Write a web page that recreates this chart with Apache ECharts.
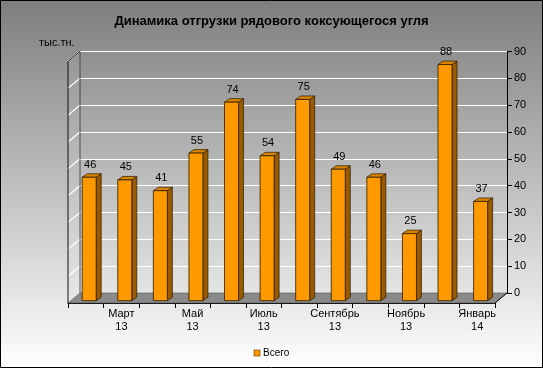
<!DOCTYPE html>
<html><head><meta charset="utf-8">
<script src="https://cdn.jsdelivr.net/npm/echarts@6/dist/echarts.min.js"></script>
<style>html,body{margin:0;padding:0;background:#fff}#c{width:543px;height:368px}</style>
</head><body><div id="c"></div>
<script>
var categories = ['Февраль\n13','Март\n13','Апрель\n13','Май\n13','Июнь\n13','Июль\n13','Август\n13','Сентябрь\n13','Октябрь\n13','Ноябрь\n13','Декабрь\n13','Январь\n14'];
var values = [46,45,41,55,74,54,75,49,46,25,88,37];
var seriesName = 'Всего';
var titleText = 'Динамика отгрузки рядового коксующегося угля';
var unitText = 'тыс.тн.';
var yMin = 0, yMax = 90, yStep = 10;

var FONT = '"Liberation Sans", Arial, sans-serif';
var chart = echarts.init(document.getElementById('c'), null, {renderer:'canvas'});

// depth vector of the 3D box (back wall -> front edge)
var DX = -12, DY = 10;
// bar front face offset relative to back-wall coordinates
var BFX = -8.6, BFY = 7.7;
var BW = 14, BDX = 5, BDY = -3.5;

function frameItem(params, api){
  var cs = params.coordSys;
  var x0 = cs.x, x1 = cs.x + cs.width, yT = cs.y, yB = cs.y + cs.height;
  var ch = [];
  ch.push({type:'polygon', shape:{points:[[x0,yB],[x1,yB],[x1+DX,yB+DY],[x0+DX,yB+DY]]},
    style:{fill:'#8a8a8a', stroke:'#555', lineWidth:0.6}});
  ch.push({type:'polygon', shape:{points:[[x0,yT],[x0,yB],[x0+DX,yB+DY],[x0+DX,yT+DY]]},
    style:{fill:'rgba(255,255,255,0.05)', stroke:null}});
  for (var v = yMin + yStep; v <= yMax; v += yStep){
    var p = api.coord([0, v]);
    ch.push({type:'line', shape:{x1:x0, y1:p[1], x2:x0+DX, y2:p[1]+DY},
      style:{stroke:'#ffffff', lineWidth:1.2}});
  }
  ch.push({type:'line', shape:{x1:x0+DX, y1:yT+DY, x2:x0+DX, y2:yB+DY}, style:{stroke:'#111', lineWidth:1}});
  ch.push({type:'line', shape:{x1:x0, y1:yT, x2:x0+DX, y2:yT+DY}, style:{stroke:'#111', lineWidth:1}});
  ch.push({type:'line', shape:{x1:x0, y1:yT, x2:x0, y2:yB}, style:{stroke:'#333', lineWidth:0.8}});
  ch.push({type:'line', shape:{x1:x1, y1:yB, x2:x1+DX, y2:yB+DY}, style:{stroke:'#111', lineWidth:1}});
  return {type:'group', children:ch, silent:true};
}

function barItem(params, api){
  var idx = api.value(0), val = api.value(1);
  var p = api.coord([idx, val]), p0 = api.coord([idx, 0]);
  var cx = p[0] + BFX;
  var xa = cx - BW/2, xb = cx + BW/2;
  var yt = p[1] + BFY, yb = p0[1] + BFY;
  return {type:'group', children:[
    {type:'polygon', shape:{points:[[xb,yt],[xb+BDX,yt+BDY],[xb+BDX,yb+BDY],[xb,yb]]},
      style:{fill:'#9a5a00', stroke:'#2a1a00', lineWidth:0.7}},
    {type:'polygon', shape:{points:[[xa,yt],[xa+BDX,yt+BDY],[xb+BDX,yt+BDY],[xb,yt]]},
      style:{fill:'#d88400', stroke:'#2a1a00', lineWidth:0.7}},
    {type:'rect', shape:{x:xa, y:yt, width:BW, height:yb-yt},
      style:{fill:'#ff9900', stroke:'#2a1a00', lineWidth:0.8}},
    {type:'text', x:cx+1, y:yt-7, style:{text:String(val), fill:'#000', font:'11px '+FONT,
      textAlign:'center', textVerticalAlign:'bottom'}}
  ]};
}

var option = {
  animation:false,
  backgroundColor:{type:'linear', x:0, y:0, x2:0, y2:1, colorStops:[
    {offset:0, color:'#7e7e7e'}, {offset:1, color:'#ffffff'}]},
  title:{text:titleText, left:'center', top:10,
    textStyle:{fontFamily:FONT, fontSize:13, fontWeight:'bold', color:'#000'}},
  legend:{bottom:5, left:'center', itemWidth:6, itemHeight:6, itemGap:4, icon:'rect',
    textStyle:{fontFamily:FONT, fontSize:10, color:'#000', padding:[0,0,0,-2]},
    data:[{name:seriesName, itemStyle:{color:'#ff9900', borderColor:'#5a3300', borderWidth:0.6}}]},
  graphic:[
    {type:'text', left:39, top:37, style:{text:unitText, font:'11px '+FONT, fill:'#000'}},
    {type:'rect', shape:{x:0.5, y:0.5, width:542, height:367}, style:{fill:null, stroke:'#000', lineWidth:1}, z:100}
  ],
  grid:[
    {left:80, right:36, top:51.5, bottom:75},
    {left:68, right:48, top:61.5, bottom:65}
  ],
  xAxis:[
    {type:'category', gridIndex:0, data:categories, show:false},
    {type:'category', gridIndex:1, data:categories,
      axisLine:{show:true, lineStyle:{color:'#000', width:1}},
      axisTick:{show:true, interval:0, length:5, lineStyle:{color:'#000'}},
      axisLabel:{interval:function(i){return i % 2 === 1;}, margin:4, color:'#000',
        fontFamily:FONT, fontSize:11, lineHeight:13}}
  ],
  yAxis:[
    {type:'value', gridIndex:0, position:'right', min:yMin, max:yMax, interval:yStep,
      axisLine:{show:true, lineStyle:{color:'#000', width:1}},
      axisTick:{show:true, length:5, lineStyle:{color:'#000'}},
      axisLabel:{color:'#000', fontFamily:FONT, fontSize:11, margin:7},
      splitLine:{show:true, lineStyle:{color:'#ffffff', width:1.2}}},
    {type:'value', gridIndex:1, min:yMin, max:yMax, show:false, splitLine:{show:false}}
  ],
  series:[
    {type:'custom', name:'frame', xAxisIndex:0, yAxisIndex:0, data:[[0,0]], renderItem:frameItem, z:1, silent:true},
    {type:'custom', name:seriesName, xAxisIndex:0, yAxisIndex:0, color:'#ff9900',
      data:values.map(function(v,i){return [i,v];}), renderItem:barItem, z:3,
      encode:{x:0, y:1}}
  ]
};
chart.setOption(option);
</script></body></html>
